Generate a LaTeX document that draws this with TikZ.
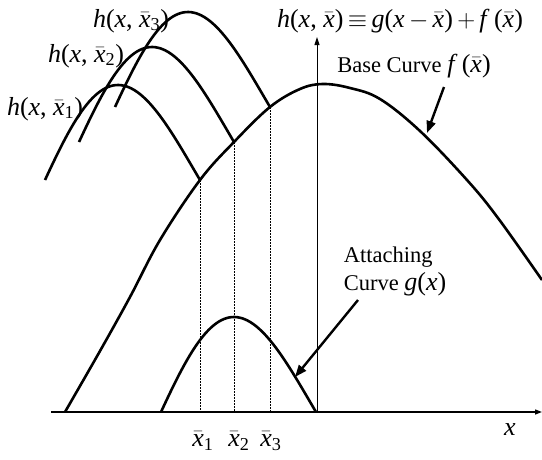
\documentclass[tikz,border=0pt]{standalone}
\usepackage{amsmath}
\usepackage{fontspec}
\setmainfont{Liberation Serif}
\usetikzlibrary{arrows.meta}
\newcommand{\vv}[1]{\textit{#1}}
\newcommand{\xbar}{\ensuremath{\bar{\mbox{\itshape x}}}}
\newcommand{\xbs}[1]{\ensuremath{\bar{\mbox{\itshape x}}_{\text{#1}}}}
\newcommand{\mfs}{\fontsize{26}{28}\selectfont}
\begin{document}
\begin{tikzpicture}[x=1pt,y=-1pt,
  curve/.style={line width=2.6pt},
  axisline/.style={line width=1.3pt},
  guide/.style={line width=0.8pt,dash pattern=on 2pt off 1pt},
  pointer/.style={line width=2.4pt,-{Triangle[length=12pt,width=9pt]}},
  lbl/.style={font=\fontsize{22.5}{28}\selectfont,inner sep=0pt},
  mlbl/.style={font=\mfs,inner sep=0pt},
  declare function={gs(\u)=95*sin(180*(\u+0.1165*\u*(1-\u)));}]
\useasboundingbox (0,0) rectangle (542,459);
% key coordinates
\coordinate (O) at (317,412);
\coordinate (Xstart) at (51,412);
\coordinate (Xend) at (542,412);
\coordinate (Ytop) at (317,37);
\coordinate (F1) at (200,180);
\coordinate (F2) at (234,142);
\coordinate (F3) at (270,107);
\coordinate (A1) at (200,412);
\coordinate (A2) at (234,412);
\coordinate (A3) at (270,412);
% axes
\draw[axisline,-{Triangle[length=7pt,width=5pt]}] (Xstart) -- (Xend);
\draw[line width=1pt,-{Triangle[length=8pt,width=5pt]}] (O) -- (Ytop);
% guides
\draw[guide] (F1) -- (A1);
\draw[guide] (F2) -- (A2);
\draw[guide] (F3) -- (A3);
% base curve f
\draw[curve] plot[smooth,tension=0.6] coordinates {(65,412) (100,351) (130,297) (160,240) (200,180) (234,142) (270,107) (300,89) (323,84) (350,88) (380,99) (420,131) (467,180) (498,218) (542,280)};
% attaching curve g
\draw[curve] plot[domain=0:1,samples=60] ({161+155*\x},{412-gs(\x)});
% shifted curves h
\draw[curve] plot[domain=0:1,samples=60] ({45+155*\x},{180-gs(\x)});
\draw[curve] plot[domain=0:1,samples=60] ({79+155*\x},{142-gs(\x)});
\draw[curve] plot[domain=0:1,samples=60] ({115+155*\x},{107-gs(\x)});
% labels
\node[mlbl] (h3) at (131,21) {\vv{h}(\vv{x}, \xbs{3})};
\node[mlbl] (h2) at (86,56) {\vv{h}(\vv{x}, \xbs{2})};
\node[mlbl] (h1) at (45,109) {\vv{h}(\vv{x}, \xbs{1})};
\node[mlbl] (main) at (400,21) {\vv{h}(\vv{x}, \xbar)\,$\equiv$\,\vv{g}(\vv{x}\,$-$\,\xbar)\,$+$\,\vv{f}\,(\xbar)};
\node[lbl] (base) at (414,66) {Base Curve \mfs\vv{f}\,(\xbar)};
\node[lbl,align=left] (att) at (395,271) {Attaching\\Curve {\mfs\vv{g}(\vv{x})}};
\node[mlbl] (xb1) at (203,441) {\xbs{1}};
\node[mlbl] (xb2) at (239,441) {\xbs{2}};
\node[mlbl] (xb3) at (271,441) {\xbs{3}};
\node[mlbl] (xl) at (510,430) {\vv{x}};
% pointers
\coordinate (PB) at (427,133);
\coordinate (PG) at (295,377);
\draw[pointer] (444,87) -- (PB);
\draw[pointer] (358,300) -- (PG);
\end{tikzpicture}
\end{document}
